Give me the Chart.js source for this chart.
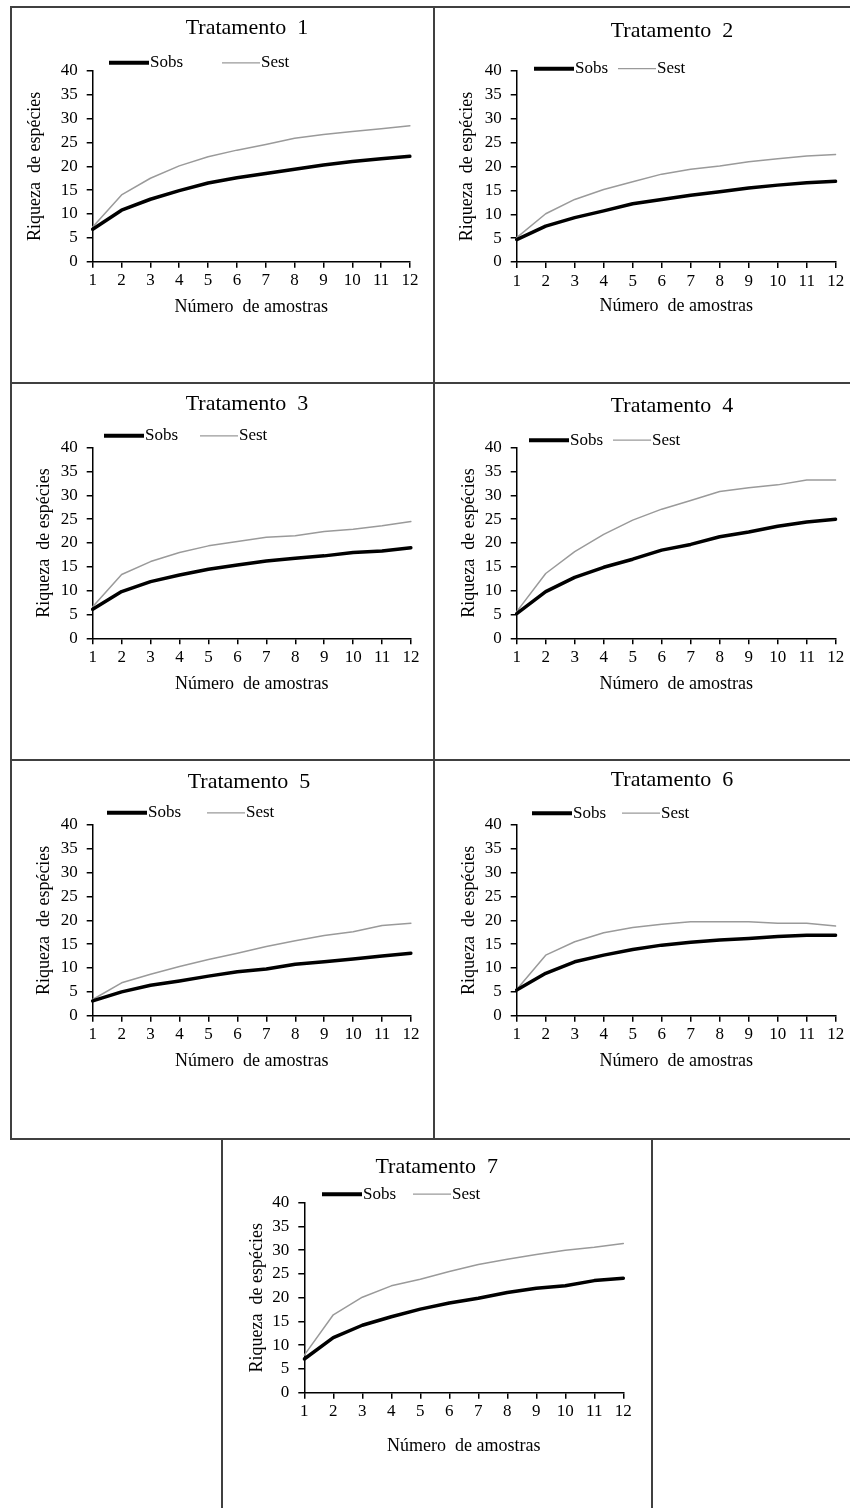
<!DOCTYPE html>
<html>
<head>
<meta charset="utf-8">
<script src="https://cdn.jsdelivr.net/npm/chart.js@4.4.0/dist/chart.umd.min.js"></script>
<style>
  body { margin: 0; background: #fff; width: 850px; height: 1508px; position: relative; overflow: hidden; }
  canvas { position: absolute; }
  .borda { position: absolute; background: #404040; }
</style>
</head>
<body>
<div id="paineis"></div>
<div class="borda" style="left:10px;top:6px;width:840px;height:2px"></div>
<div class="borda" style="left:10px;top:382px;width:840px;height:2px"></div>
<div class="borda" style="left:10px;top:759px;width:840px;height:2px"></div>
<div class="borda" style="left:10px;top:1138px;width:840px;height:2px"></div>
<div class="borda" style="left:10px;top:6px;width:2px;height:1134px"></div>
<div class="borda" style="left:433px;top:6px;width:2px;height:1134px"></div>
<div class="borda" style="left:221px;top:1138px;width:2px;height:370px"></div>
<div class="borda" style="left:651px;top:1138px;width:2px;height:370px"></div>
<script>
// dados
const amostras = ['1', '2', '3', '4', '5', '6', '7', '8', '9', '10', '11', '12'];
const riquezaMin = 0, riquezaMax = 40, riquezaPasso = 5;
const tratamentos = ['Tratamento  1', 'Tratamento  2', 'Tratamento  3', 'Tratamento  4',
                     'Tratamento  5', 'Tratamento  6', 'Tratamento  7'];

const sobs1 = [6.8, 10.8, 13.1, 14.9, 16.5, 17.6, 18.5, 19.4, 20.3, 21.0, 21.6, 22.1];
const sest1 = [7.3, 14.0, 17.5, 20.1, 22.0, 23.4, 24.6, 25.9, 26.7, 27.3, 27.9, 28.5];
const sobs2 = [4.7, 7.5, 9.3, 10.7, 12.2, 13.1, 14.0, 14.7, 15.5, 16.1, 16.6, 16.9];
const sest2 = [5.1, 10.1, 13.1, 15.2, 16.8, 18.4, 19.4, 20.1, 21.0, 21.6, 22.2, 22.5];
const sobs3 = [6.1, 9.8, 11.9, 13.3, 14.5, 15.4, 16.2, 16.8, 17.3, 18.0, 18.3, 19.0];
const sest3 = [6.6, 13.4, 16.1, 18.0, 19.4, 20.3, 21.2, 21.5, 22.4, 22.9, 23.6, 24.5];
const sobs4 = [5.2, 9.8, 12.8, 14.9, 16.6, 18.5, 19.7, 21.3, 22.3, 23.5, 24.4, 25.0];
const sest4 = [5.6, 13.6, 18.2, 21.8, 24.8, 27.1, 28.9, 30.8, 31.6, 32.2, 33.2, 33.2];
const sobs5 = [3.1, 5.0, 6.4, 7.3, 8.3, 9.2, 9.8, 10.8, 11.3, 11.9, 12.5, 13.1];
const sest5 = [3.4, 6.9, 8.7, 10.3, 11.8, 13.1, 14.5, 15.7, 16.8, 17.6, 18.9, 19.4];
const sobs6 = [5.4, 8.9, 11.3, 12.7, 13.9, 14.8, 15.4, 15.9, 16.2, 16.6, 16.9, 16.9];
const sest6 = [5.5, 12.7, 15.5, 17.4, 18.5, 19.2, 19.7, 19.7, 19.7, 19.4, 19.4, 18.8];
const sobs7 = [7.1, 11.6, 14.2, 16.0, 17.6, 18.9, 19.9, 21.1, 22.0, 22.5, 23.6, 24.1];
const sest7 = [7.9, 16.4, 20.1, 22.5, 23.9, 25.5, 27.0, 28.1, 29.1, 30.0, 30.6, 31.4];

const series = [[sobs1, sest1], [sobs2, sest2], [sobs3, sest3], [sobs4, sest4],
                [sobs5, sest5], [sobs6, sest6], [sobs7, sest7]];

// posicoes na pagina (px): caixa, area do grafico, titulo, legenda, titulos dos eixos
const layout = [
  { box: [11, 7, 433, 383],    plot: [92.7, 71, 410, 261.7],      tx: 247, ty: 28.5,   ly: 62.8,  lx: [109, 222], yt: 35,  xt: 307.5 },
  { box: [433, 7, 850, 383],   plot: [516.7, 71, 835.7, 262],     tx: 672, ty: 31.3,   ly: 68.7,  lx: [534, 618], yt: 467, xt: 306 },
  { box: [11, 383, 433, 760],  plot: [92.7, 447.7, 411, 638.3],   tx: 247, ty: 404.5,  ly: 435.8, lx: [104, 200], yt: 44,  xt: 684.5 },
  { box: [433, 383, 850, 760], plot: [516.7, 447.7, 835.7, 638.3], tx: 672, ty: 405.8, ly: 440.2, lx: [529, 613], yt: 469, xt: 684.5 },
  { box: [11, 760, 433, 1139], plot: [92.7, 825, 411, 1015.7],    tx: 249, ty: 782,    ly: 812.8, lx: [107, 207], yt: 44,  xt: 1060.8 },
  { box: [433, 760, 850, 1139], plot: [516.7, 825, 835.7, 1015.7], tx: 672, ty: 780,   ly: 813.2, lx: [532, 622], yt: 469, xt: 1061 },
  { box: [222, 1139, 651, 1508], plot: [304.3, 1202.7, 623.3, 1392.7], tx: 436.7, ty: 1167.5, ly: 1194.2, lx: [322, 413], yt: 257, xt: 1446.7 }
];

const fonte = '"Liberation Serif", "Times New Roman", serif';
Chart.defaults.font.family = fonte;
Chart.defaults.color = '#000';

const tituloAltura = 18 * 1.2;

const decor = {
  id: 'decor',
  afterDraw(chart, args, o) {
    const ctx = chart.ctx;
    ctx.save();
    ctx.fillStyle = '#000';
    ctx.textBaseline = 'middle';
    ctx.textAlign = 'center';
    ctx.font = '22px ' + fonte;
    ctx.fillText(o.titulo, o.tx, o.ty);
    ctx.textAlign = 'left';
    ctx.font = '17px ' + fonte;
    chart.data.datasets.forEach((ds, i) => {
      const x = o.lx[i], w = o.lw[i];
      ctx.strokeStyle = ds.borderColor;
      ctx.lineWidth = ds.legendaLargura;
      ctx.beginPath();
      ctx.moveTo(x, o.ly);
      ctx.lineTo(x + w, o.ly);
      ctx.stroke();
      ctx.fillText(ds.label, x + w + 1, o.ly);
    });
    ctx.restore();
  }
};

const holder = document.getElementById('paineis');

layout.forEach((p, i) => {
  const [x0, y0, x1, y1] = p.box;
  const W = x1 - x0, H = y1 - y0;
  const cl = p.plot[0] - x0, ct = p.plot[1] - y0, cr = p.plot[2] - x0, cb = p.plot[3] - y0;
  const padLeft = p.yt - x0 - tituloAltura / 2;
  const yW = cl - padLeft;
  const xBottom = p.xt - y0 + tituloAltura / 2;
  const xH = xBottom - cb;

  const cv = document.createElement('canvas');
  cv.width = W; cv.height = H;
  cv.style.left = x0 + 'px';
  cv.style.top = y0 + 'px';
  holder.appendChild(cv);

  const eixo = {
    grid: { display: true, drawOnChartArea: false, drawTicks: true, tickLength: 6, color: '#000', lineWidth: 1.5 },
    border: { display: true, color: '#000', width: 1.5 }
  };

  new Chart(cv, {
    type: 'line',
    data: {
      labels: amostras,
      datasets: [
        { label: 'Sobs', data: series[i][0], borderColor: '#000', borderWidth: 3.5, legendaLargura: 4 },
        { label: 'Sest', data: series[i][1], borderColor: '#9a9a9a', borderWidth: 1.5, legendaLargura: 1.3 }
      ]
    },
    options: {
      responsive: false,
      animation: false,
      layout: { padding: { left: padLeft, top: ct, right: W - cr, bottom: H - xBottom } },
      elements: { point: { radius: 0 }, line: { tension: 0, borderCapStyle: 'round', borderJoinStyle: 'round' } },
      plugins: {
        legend: { display: false },
        tooltip: { enabled: false },
        decor: { titulo: tratamentos[i], tx: p.tx - x0, ty: p.ty - y0, ly: p.ly - y0,
                 lx: [p.lx[0] - x0, p.lx[1] - x0], lw: [40, 38] }
      },
      scales: {
        x: {
          ...eixo,
          offset: false,
          ticks: { font: { size: 17 }, padding: 3, maxRotation: 0, autoSkip: false },
          title: { display: true, text: 'Número  de amostras', font: { size: 18 }, padding: 0 },
          afterFit: s => { s.height = xH; }
        },
        y: {
          ...eixo,
          min: riquezaMin, max: riquezaMax,
          ticks: { stepSize: riquezaPasso, font: { size: 17 }, padding: 9 },
          title: { display: true, text: 'Riqueza  de espécies', font: { size: 18 }, padding: 0 },
          afterFit: s => { s.width = yW; }
        }
      }
    },
    plugins: [decor]
  });
});
</script>
</body>
</html>
